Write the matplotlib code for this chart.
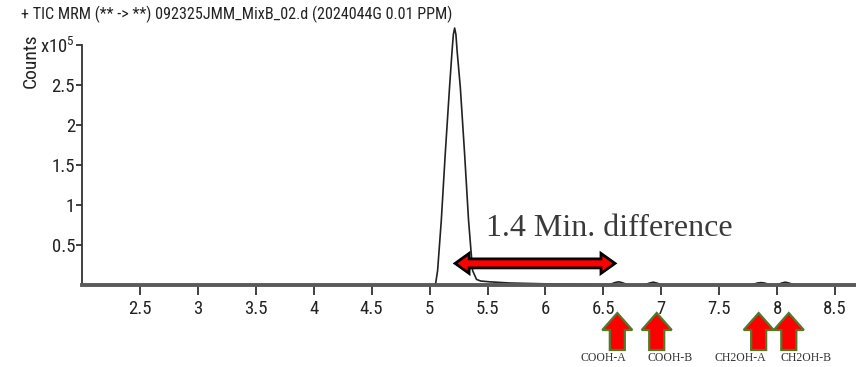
import matplotlib
matplotlib.use("Agg")
import matplotlib.pyplot as plt
from matplotlib import font_manager
from matplotlib.patches import Polygon

# Chromatogram (time in min, counts in units of 1e5)
rt = [2.0, 5.0, 5.05, 5.069, 5.101, 5.135, 5.172, 5.194, 5.205, 5.216,
      5.227, 5.237, 5.265, 5.302, 5.336, 5.371, 5.405, 5.44, 5.517, 5.69,
      5.99, 6.29, 6.47, 6.55, 6.6, 6.63, 6.66, 6.71, 6.85, 6.9, 6.93, 6.96,
      7.0, 7.78, 7.83, 7.86, 7.89, 7.94, 8.0, 8.04, 8.07, 8.10, 8.15, 8.7]
counts = [0.0, 0.0, 0.0, 0.18, 0.81, 1.64, 2.47, 2.93, 3.13, 3.21,
          3.13, 2.93, 2.47, 1.64, 0.81, 0.18, 0.07, 0.05, 0.04, 0.025,
          0.015, 0.01, 0.005, 0.005, 0.03, 0.04, 0.03, 0.003, 0.002, 0.025, 0.035, 0.025,
          0.002, 0.002, 0.025, 0.03, 0.025, 0.002, 0.003, 0.025, 0.035, 0.025, 0.002, 0.0]

xticks = [2.5, 3, 3.5, 4, 4.5, 5, 5.5, 6, 6.5, 7, 7.5, 8, 8.5]
xticklabels = ["2.5", "3", "3.5", "4", "4.5", "5", "5.5", "6", "6.5", "7", "7.5", "8", "8.5"]
yticks = [0.5, 1.0, 1.5, 2.0, 2.5, 3.0]
yticklabels = ["0.5", "1", "1.5", "2", "2.5", "x10$^5$"]

title = "+ TIC MRM (** -> **) 092325JMM_MixB_02.d (2024044G 0.01 PPM)"

# separation annotation
diff_start, diff_end, diff_y = 5.22, 6.6, 0.27
diff_text = "1.4 Min. difference"

# compound markers below the axis
arrow_x = [6.62, 6.96, 7.84, 8.10]
label_x = [6.50, 7.08, 7.68, 8.25]
compounds = ["COOH-A", "COOH-B", "CH2OH-A", "CH2OH-B"]

# pick a narrow sans face if one is installed (the original uses a condensed UI font)
names = {f.name for f in font_manager.fontManager.ttflist}
cond_faces = {(f.name, f.stretch) for f in font_manager.fontManager.ttflist
              if f.stretch in ("condensed", "semi-condensed", "extra-condensed")}
narrow = None
stretch = "normal"
for cand in ["Liberation Sans Narrow", "Roboto Condensed", "Open Sans Condensed",
             "DejaVu Sans Condensed"]:
    if cand in names:
        narrow = cand
        break
if narrow is None:
    for nm, st in sorted(cond_faces):
        if nm in ("DejaVu Sans", "Roboto", "Open Sans", "Noto Sans", "Inter", "Liberation Sans"):
            narrow, stretch = nm, st
            break
if narrow is None:
    narrow, scale = "DejaVu Sans", 0.75
else:
    scale = 1.0
fam = [narrow, "DejaVu Sans"]
plt.rcParams["mathtext.default"] = "regular"

fig = plt.figure(figsize=(8.56, 3.67), dpi=100)
ax = fig.add_axes([0.0958, 0.2234, 0.9042, 0.722])

ax.plot(rt, counts, color="#222222", lw=1.2)
ax.set_xlim(2.0, 8.68)
ax.set_ylim(0, 3.31)

ax.spines["top"].set_visible(False)
ax.spines["right"].set_visible(False)
ax.spines["left"].set_bounds(0, 3.0)
ax.spines["left"].set_color("#333333")
ax.spines["left"].set_linewidth(1.3)
ax.spines["bottom"].set_color("#5a5a5a")
ax.spines["bottom"].set_linewidth(2.8)

tick_font = dict(family=fam, stretch=stretch, fontsize=13.5 * scale, color="#222222")
ax.set_xticks(xticks)
ax.set_xticklabels(xticklabels, **tick_font)
ax.set_yticks(yticks)
ax.set_yticklabels(yticklabels, **tick_font)
ax.tick_params(axis="x", length=7, width=1.3, color="#333333", pad=4)
ax.tick_params(axis="y", length=4, width=1.3, color="#333333", pad=1)

fig.text(0.025, 0.985, title, family=fam, stretch=stretch, fontsize=11.6 * scale,
         color="#222222", va="top")
fig.text(0.036, 0.835, "Counts", family=fam, stretch=stretch, fontsize=14 * scale,
         color="#222222", rotation=90, ha="center", va="center")

ax.text(5.49, 0.70, diff_text, family="Liberation Serif", fontsize=23,
        color="#3a3a3a", ha="left", va="center")

# fat double-headed arrow, built in pixel space from its data endpoints
fig.canvas.draw()
x0, yc = ax.transData.transform((diff_start, diff_y))
x1, _ = ax.transData.transform((diff_end, diff_y))
hl, hw, sw = 14, 10, 4.5
verts = [(x0, yc), (x0 + hl, yc + hw), (x0 + hl, yc + sw), (x1 - hl, yc + sw),
         (x1 - hl, yc + hw), (x1, yc), (x1 - hl, yc - hw), (x1 - hl, yc - sw),
         (x0 + hl, yc - sw), (x0 + hl, yc - hw)]
fig.add_artist(Polygon(verts, closed=True, transform=None, facecolor="red",
                       edgecolor="black", lw=2, clip_on=False, zorder=5))

# block up-arrows below the axis
H = fig.bbox.height
tip_y, base_y = H - 313, H - 350
for xa in arrow_x:
    xc, _ = ax.transData.transform((xa, 0))
    v = [(xc, tip_y), (xc + 15, tip_y - 17), (xc + 7.5, tip_y - 17),
         (xc + 7.5, base_y), (xc - 7.5, base_y), (xc - 7.5, tip_y - 17),
         (xc - 15, tip_y - 17)]
    fig.add_artist(Polygon(v, closed=True, transform=None, facecolor="red",
                           edgecolor="#4f7a2a", lw=1.6, clip_on=False, zorder=5))

for xl, name in zip(label_x, compounds):
    xc, _ = ax.transData.transform((xl, 0))
    fig.text(xc / fig.bbox.width, (H - 358) / H, name, family="Liberation Serif",
             fontsize=8.5, color="#333333", ha="center", va="center")

fig.savefig("out.png", dpi=100)
